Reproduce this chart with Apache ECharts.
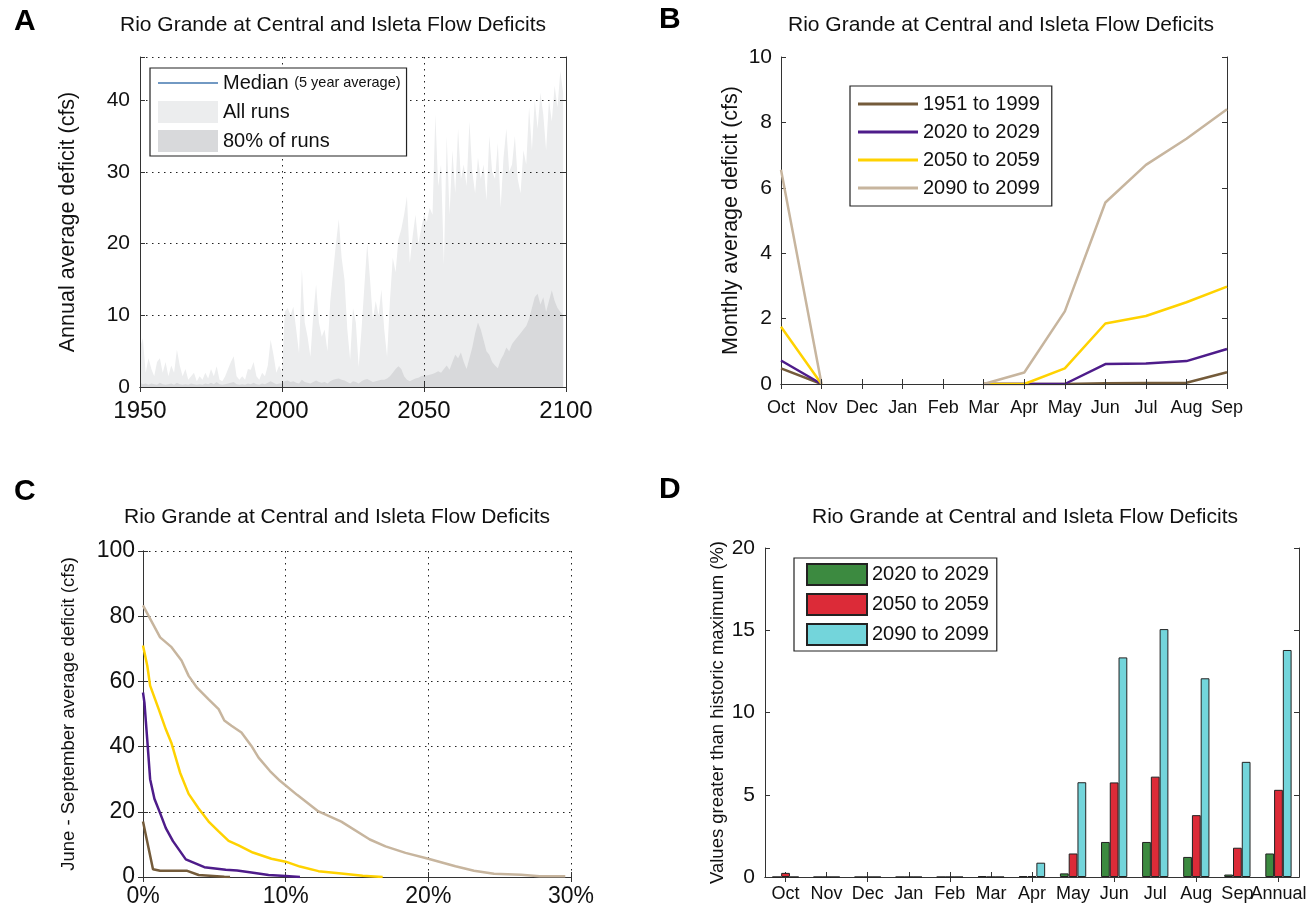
<!DOCTYPE html>
<html>
<head>
<meta charset="utf-8">
<script src="https://cdn.jsdelivr.net/npm/echarts@6/dist/echarts.min.js"></script>
<style>
    html, body { margin: 0; padding: 0; background: #fff; }
    #main { width: 1310px; height: 911px; }
</style>
</head>
<body>
<div id="main"></div>
<script>
var FONT = "'Liberation Sans', Arial, Helvetica, sans-serif";
var TITLE = 'Rio Grande at Central and Isleta Flow Deficits';

// A - annual deficit envelopes, one value per year from 1950
var aStartYear = 1950;
var aAllRuns = [
    5.5, 6.8, 2.0, 4.0, 2.5, 1.5, 3.5, 4.0, 2.0, 3.5,
    1.5, 3.0, 2.0, 5.2, 3.0, 1.5, 2.5, 1.0, 1.5, 2.0,
    0.8, 1.5, 1.0, 2.0, 1.2, 2.5, 1.5, 2.9, 1.0, 0.8,
    1.5, 2.5, 3.5, 4.3, 1.5, 1.0, 1.5, 1.0, 2.5, 2.4,
    3.5, 1.5, 1.0, 2.0, 1.5, 3.0, 6.6, 4.5, 2.0, 3.0,
    2.0, 10.5, 11.0, 10.0, 11.2, 8.0, 4.7, 16.4, 9.0, 7.0,
    4.2, 10.0, 14.3, 9.0, 7.0, 8.0, 5.0, 12.0, 16.0, 20.0,
    23.4, 18.0, 15.0, 8.0, 3.8, 11.0, 9.0, 2.8, 8.0, 14.0,
    20.0, 15.0, 9.4, 12.0, 10.0, 13.6, 8.0, 4.2, 12.0, 18.0,
    16.0, 20.6, 22.0, 24.0, 26.6, 17.3, 21.0, 24.0, 20.0, 22.0,
    24, 23, 25, 24, 38, 28, 31, 17, 35, 24,
    33, 27, 36, 29, 31, 28, 37, 30, 27, 32,
    29, 31, 26, 35, 30, 29, 34, 25, 32, 36,
    30, 31, 35, 29, 27, 33, 31, 39, 33, 40,
    36, 41, 38, 33, 40, 37, 42, 39, 44, 41
];
var aRuns80 = [
    0.6, 0.4, 0.5, 0.3, 0.5, 0.4, 0.3, 0.6, 0.4, 0.3,
    0.4, 0.5, 0.3, 0.6, 0.4, 0.3, 0.4, 0.3, 0.5, 0.4,
    0.3, 0.4, 0.3, 0.5, 0.4, 0.6, 0.4, 0.7, 0.4, 0.3,
    0.4, 0.5, 0.6, 0.7, 0.4, 0.3, 0.4, 0.3, 0.5, 0.4,
    0.6, 0.4, 0.3, 0.5, 0.4, 0.6, 0.8, 0.6, 0.4, 0.5,
    0.5, 0.8, 0.9, 0.7, 0.8, 0.6, 0.5, 1.0, 0.7, 0.6,
    0.5, 0.7, 0.9, 0.7, 0.6, 0.7, 0.5, 0.8, 1.0, 1.1,
    1.2, 1.0, 0.9, 0.7, 0.5, 0.8, 0.7, 0.5, 0.8, 1.0,
    1.1, 0.9, 0.7, 0.8, 0.9, 1.0, 1.0, 1.2, 1.5, 2.0,
    2.5, 2.9, 2.5, 1.5, 1.0, 0.8, 1.0, 1.2, 1.3, 1.5,
    1.6, 1.6, 1.7, 1.8, 2.0, 2.2, 2.0, 2.5, 3.0, 2.4,
    3.5, 4.5, 4.0, 4.8, 3.5, 2.5, 4.0, 5.5, 7.5, 9.0,
    8.0, 6.5, 5.0, 4.5, 3.5, 3.0, 2.6, 3.8, 4.5, 5.5,
    5.0, 6.0, 6.5, 7.0, 7.5, 8.0, 8.5, 9.5, 11.0, 12.5,
    13.0, 11.5, 12.5, 10.5, 12.0, 13.5, 12.0, 11.0, 10.5, 10.0
];

// B - monthly average deficit (no line is drawn Dec-Feb)
var bMonths = ['Oct', 'Nov', 'Dec', 'Jan', 'Feb', 'Mar', 'Apr', 'May', 'Jun', 'Jul', 'Aug', 'Sep'];
var b1951 = [0.48, 0, null, null, null, 0, 0, 0, 0.02, 0.03, 0.04, 0.36];
var b2020 = [0.72, 0, null, null, null, 0, 0, 0, 0.61, 0.63, 0.70, 1.07];
var b2050 = [1.75, 0, null, null, null, 0, 0, 0.48, 1.85, 2.08, 2.50, 2.98];
var b2090 = [6.55, 0, null, null, null, 0, 0.35, 2.22, 5.55, 6.70, 7.50, 8.40];

// C - exceedance of June-September deficit (x in %)
var c1951X = [0, 0.7, 1.2, 3.1, 3.9, 5.7, 6.1];
var c1951Y = [17, 2.4, 1.9, 1.9, 0.6, 0.1, 0];
var c2020X = [0, 0.1, 0.3, 0.5, 0.8, 1.2, 1.6, 2.1, 3.0, 4.3, 5.8, 6.6, 7.6, 8.8, 10.0, 11.0];
var c2020Y = [56.6, 53.5, 42, 30, 24, 19.6, 15, 11, 5.4, 3.0, 2.2, 2.0, 1.4, 0.6, 0.3, 0];
var c2050X = [0, 0.3, 0.5, 1.1, 1.6, 2.0, 2.6, 3.2, 3.9, 4.6, 5.3, 6.0, 6.7, 7.7, 9.0, 10.0, 11.0, 12.3, 13.9, 15.4, 16.8];
var c2050Y = [71, 64.8, 58.7, 51.5, 45.3, 41, 32, 25.5, 21, 17, 14, 11.1, 9.7, 7.5, 5.6, 4.7, 3.2, 1.8, 1.1, 0.4, 0];
var c2090X = [0, 0.4, 1.2, 2.0, 2.7, 3.2, 3.8, 4.6, 5.3, 5.7, 6.2, 6.9, 7.6, 8.1, 8.9, 9.6, 10.8, 12.3, 13.9, 15.9, 17.0, 18.4, 20.0, 21.9, 23.2, 24.6, 26.5, 27.8, 29.6];
var c2090Y = [83.3, 80, 73.5, 70.5, 66.4, 61.7, 58, 54.5, 51.5, 48, 46.4, 44.3, 40.2, 36.6, 32.5, 29.5, 25.2, 20.1, 17, 11.5, 9.4, 7.4, 5.6, 3.3, 1.9, 1.0, 0.7, 0.2, 0.2];

// D - share of values above the historic maximum
var dCats = ['Oct', 'Nov', 'Dec', 'Jan', 'Feb', 'Mar', 'Apr', 'May', 'Jun', 'Jul', 'Aug', 'Sep', 'Annual'];
var d2020 = [0, 0, 0, 0, 0, 0.05, 0.05, 0.22, 2.13, 2.13, 1.22, 0.15, 1.43];
var d2050 = [0.25, 0, 0, 0, 0, 0, 0.05, 1.43, 5.75, 6.10, 3.76, 1.78, 5.30];
var d2090 = [0, 0, 0, 0, 0, 0, 0.87, 5.76, 13.35, 15.07, 12.08, 7.00, 13.80];

var colBrown = '#745b3a';
var colPurple = '#4e1c8a';
var colYellow = '#ffd200';
var colTan = '#c7b59e';

function pairs(xs, ys) {
    var out = [];
    for (var i = 0; i < xs.length; i++) out.push([xs[i], ys[i]]);
    return out;
}
function yearPairs(vals) {
    var out = [];
    for (var i = 0; i < vals.length; i++) out.push([aStartYear + i, vals[i]]);
    return out;
}

var dotted = { show: true, lineStyle: { color: '#222', width: 1, type: [1.5, 4.5] } };
var axLine = { show: true, lineStyle: { color: '#333', width: 1 } };
var tick = { show: true, inside: true, length: 5, lineStyle: { color: '#333' } };

// one bottom/left axis with labels plus a mirrored top/right axis for the box
function xPair(grid, base) {
    var main = Object.assign({ gridIndex: grid, position: 'bottom', axisLine: axLine, axisTick: tick,
        splitLine: { show: false } }, base);
    var mirror = Object.assign({}, main, { position: 'top', axisLabel: { show: false }, splitLine: { show: false }, name: '' });
    return [main, mirror];
}
function yPair(grid, base) {
    var main = Object.assign({ gridIndex: grid, position: 'left', axisLine: axLine, axisTick: tick,
        splitLine: { show: false }, nameLocation: 'middle', nameRotate: 90 }, base);
    var mirror = Object.assign({}, main, { position: 'right', axisLabel: { show: false }, splitLine: { show: false }, name: '' });
    return [main, mirror];
}

var lbl = function (size, margin, fmt) {
    var o = { color: '#111', fontFamily: FONT, fontSize: size, margin: margin, interval: 0 };
    if (fmt) o.formatter = fmt;
    return o;
};
var nameStyle = function (size) { return { color: '#111', fontFamily: FONT, fontSize: size }; };

var xAxes = [].concat(
    xPair(0, { type: 'value', min: 1950, max: 2100, interval: 50, z: 3,
        axisLabel: lbl(24, 12, function (v) { return String(v); }), splitLine: dotted }),
    xPair(1, { type: 'category', data: bMonths, boundaryGap: false, z: 3,
        axisLabel: lbl(18, 15) }),
    xPair(2, { type: 'value', min: 0, max: 30, interval: 10,
        axisLabel: lbl(23, 8, '{value}%'), splitLine: dotted }),
    xPair(3, { type: 'category', data: dCats, boundaryGap: true,
        axisTick: { show: true, inside: true, length: 5, alignWithLabel: true, lineStyle: { color: '#333' } },
        axisLabel: lbl(18, 8) })
);

var yAxes = [].concat(
    yPair(0, { type: 'value', min: 0, max: 46, interval: 10, z: 3,
        axisLabel: lbl(21, 10, function (v) { return v % 10 === 0 ? v : ''; }), splitLine: dotted,
        name: 'Annual average deficit (cfs)', nameGap: 61, nameTextStyle: nameStyle(21.5) }),
    yPair(1, { type: 'value', min: 0, max: 10, interval: 2,
        axisLabel: lbl(21, 9), name: 'Monthly average deficit (cfs)', nameGap: 39, nameTextStyle: nameStyle(21.5) }),
    yPair(2, { type: 'value', min: 0, max: 100, interval: 20,
        axisLabel: lbl(23, 8), splitLine: dotted,
        name: 'June - September average deficit (cfs)', nameGap: 65, nameTextStyle: nameStyle(18.5) }),
    yPair(3, { type: 'value', min: 0, max: 20, interval: 5,
        axisLabel: lbl(21, 10), name: 'Values greater than historic maximum (%)', nameGap: 38, nameTextStyle: nameStyle(18.5) })
);

var lineS = function (name, color, xi, data) {
    return { name: name, type: 'line', xAxisIndex: xi, yAxisIndex: xi, data: data, showSymbol: false,
        symbol: 'none', color: color, lineStyle: { color: color, width: 2.5 }, animation: false, z: 2 };
};
var areaS = function (name, color, data) {
    return { name: name, type: 'line', xAxisIndex: 0, yAxisIndex: 0, data: data, showSymbol: false,
        symbol: 'none', color: color, itemStyle: { color: color }, lineStyle: { width: 0 },
        areaStyle: { color: color, opacity: 1 }, animation: false, z: 1 };
};
var barS = function (name, color, data) {
    return { name: name, type: 'bar', xAxisIndex: 6, yAxisIndex: 6, data: data, color: color,
        barGap: '0%', barCategoryGap: '36%',
        itemStyle: { color: color, borderColor: '#222', borderWidth: 1 }, animation: false };
};

var series = [
    { name: 'Median', type: 'line', xAxisIndex: 0, yAxisIndex: 0, data: [], color: '#4478b0',
        itemStyle: { color: '#4478b0' }, showSymbol: false },
    areaS('All runs', '#ecedee', yearPairs(aAllRuns)),
    areaS('80% of runs', '#d8d9db', yearPairs(aRuns80)),

    lineS('1951 to 1999', colBrown, 2, b1951),
    lineS('2020 to 2029', colPurple, 2, b2020),
    lineS('2050 to 2059', colYellow, 2, b2050),
    lineS('2090 to 2099', colTan, 2, b2090),

    lineS('C|1951', colBrown, 4, pairs(c1951X, c1951Y)),
    lineS('C|2020', colPurple, 4, pairs(c2020X, c2020Y)),
    lineS('C|2050', colYellow, 4, pairs(c2050X, c2050Y)),
    lineS('C|2090', colTan, 4, pairs(c2090X, c2090Y)),

    barS('D|2020 to 2029', '#3c8a40', d2020),
    barS('D|2050 to 2059', '#dc2b38', d2050),
    barS('D|2090 to 2099', '#73d5db', d2090)
];

var legendText = { color: '#111', fontFamily: FONT, fontSize: 20 };
var medianIcon = 'path://M0,0h0.01v0.01h-0.01zM0,10.3h60v1.4h-60zM59.99,21.99h0.01v0.01h-0.01z';

var option = {
    backgroundColor: '#fff',
    animation: false,
    textStyle: { fontFamily: FONT },
    grid: [
        { left: 140, top: 57, width: 426, height: 330 },
        { left: 781, top: 57, width: 446, height: 327 },
        { left: 143, top: 551, width: 428, height: 326 },
        { left: 765, top: 548, width: 534, height: 329 }
    ],
    xAxis: xAxes,
    yAxis: yAxes,
    legend: [
        { left: 150, top: 68, orient: 'vertical', itemWidth: 60, itemHeight: 22, itemGap: 7,
            padding: [4, 6, 4, 8], borderColor: '#222', borderWidth: 1.2, backgroundColor: '#fff',
            selectedMode: false, textStyle: Object.assign({ rich: { s: { fontSize: 14.5, fontFamily: FONT, color: '#111' } } }, legendText),
            data: [{ name: 'Median', icon: medianIcon }, { name: 'All runs', icon: 'rect' }, { name: '80% of runs', icon: 'rect' }],
            formatter: function (n) { return n === 'Median' ? 'Median {s|(5 year average)}' : n; } },
        { left: 850, top: 86, orient: 'vertical', itemWidth: 60, itemHeight: 3, itemGap: 8,
            padding: [8, 12, 8, 8], borderColor: '#222', borderWidth: 1.2, backgroundColor: '#fff',
            selectedMode: false, textStyle: legendText, icon: 'rect',
            data: ['1951 to 1999', '2020 to 2029', '2050 to 2059', '2090 to 2099'] },
        { left: 794, top: 558, orient: 'vertical', itemWidth: 60, itemHeight: 21, itemGap: 7,
            padding: [5, 8, 5, 12], borderColor: '#222', borderWidth: 1.2, backgroundColor: '#fff',
            selectedMode: false, textStyle: legendText, icon: 'rect',
            data: ['D|2020 to 2029', 'D|2050 to 2059', 'D|2090 to 2099'],
            formatter: function (n) { return n.split('|')[1]; } }
    ],
    graphic: [
        { type: 'text', x: 14, y: 7, style: { text: 'A', font: 'bold 30px ' + FONT, fill: '#000' } },
        { type: 'text', x: 659, y: 5, style: { text: 'B', font: 'bold 30px ' + FONT, fill: '#000' } },
        { type: 'text', x: 14, y: 477, style: { text: 'C', font: 'bold 30px ' + FONT, fill: '#000' } },
        { type: 'text', x: 659, y: 475, style: { text: 'D', font: 'bold 30px ' + FONT, fill: '#000' } },
        { type: 'text', x: 333, y: 25, style: { text: TITLE, font: '21px ' + FONT, fill: '#111', textAlign: 'center', textVerticalAlign: 'middle' } },
        { type: 'text', x: 1001, y: 25, style: { text: TITLE, font: '21px ' + FONT, fill: '#111', textAlign: 'center', textVerticalAlign: 'middle' } },
        { type: 'text', x: 337, y: 517, style: { text: TITLE, font: '21px ' + FONT, fill: '#111', textAlign: 'center', textVerticalAlign: 'middle' } },
        { type: 'text', x: 1025, y: 517, style: { text: TITLE, font: '21px ' + FONT, fill: '#111', textAlign: 'center', textVerticalAlign: 'middle' } }
    ],
    series: series
};

var chart = echarts.init(document.getElementById('main'), null, { renderer: 'canvas' });
chart.setOption(option);
</script>
</body>
</html>
